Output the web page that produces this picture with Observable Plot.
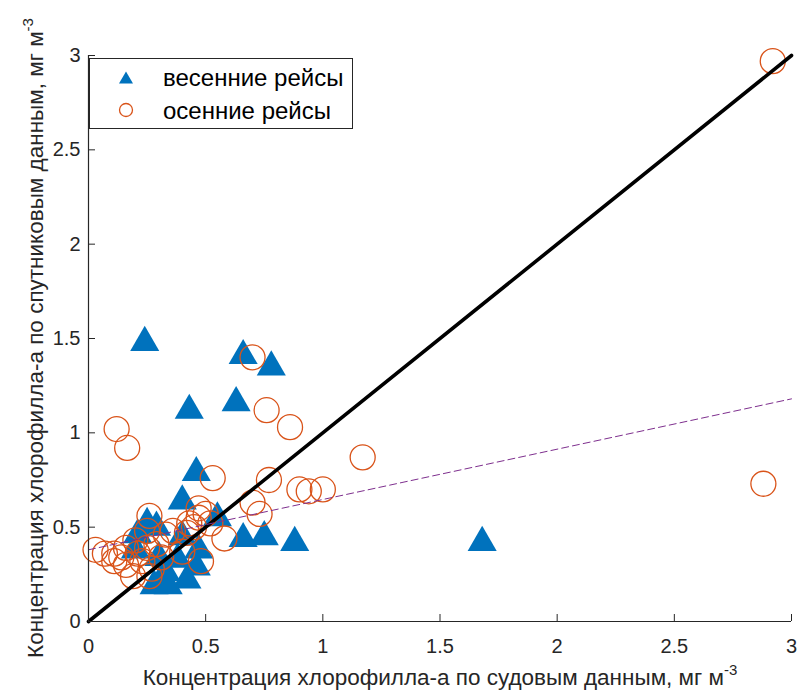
<!DOCTYPE html>
<html><head><meta charset="utf-8">
<script src="https://cdn.jsdelivr.net/npm/d3@7"></script>
<script src="https://cdn.jsdelivr.net/npm/@observablehq/plot@0.6"></script>
<style>body{margin:0;background:#fff}</style>
</head><body><div id="chart"></div>
<script>
// Axis ticks
const xTicks = [0, 0.5, 1, 1.5, 2, 2.5, 3];
const xTickLabels = ["0", "0.5", "1", "1.5", "2", "2.5", "3"];
const yTicks = [0, 0.5, 1, 1.5, 2, 2.5, 3];
const yTickLabels = ["0", "0.5", "1", "1.5", "2", "2.5", "3"];

// Spring cruises (triangles)
const springX = [0.24,0.66,0.78,0.43,0.63,0.46,0.40,0.25,0.55,0.66,0.75,0.88,1.68,0.47,0.46,0.42,0.31,0.28,0.34,0.30,0.20,0.21,0.29,0.33,0.38,0.40];
const springY = [1.50,1.43,1.37,1.14,1.18,0.81,0.66,0.54,0.57,0.46,0.47,0.44,0.44,0.40,0.31,0.24,0.24,0.21,0.21,0.36,0.40,0.48,0.52,0.28,0.35,0.47];

// Autumn cruises (circles)
const autumnX = [2.92,2.88,0.12,0.165,0.70,0.76,0.86,1.17,0.53,0.77,0.70,0.73,0.90,0.94,1.00,0.58,0.47,0.48,0.40,0.26,0.25,0.03,0.07,0.11,0.16,0.20,0.25,0.29,0.33,0.36,0.16,0.19,0.26,0.23,0.31,0.11,0.43,0.47,0.50,0.52,0.42,0.45,0.14,0.27,0.21];
const autumnY = [2.97,0.73,1.02,0.92,1.40,1.12,1.03,0.87,0.76,0.75,0.63,0.57,0.70,0.69,0.70,0.44,0.60,0.32,0.37,0.56,0.48,0.38,0.36,0.36,0.39,0.43,0.39,0.41,0.46,0.48,0.30,0.24,0.24,0.32,0.34,0.32,0.52,0.55,0.57,0.52,0.47,0.50,0.34,0.28,0.36];

// 1:1 line and regression line endpoints
const oneX = [0, 3], oneY = [0, 3];
const fitX = [0, 3], fitY = [0.38, 1.18];

const seriesNames = ["весенние рейсы", "осенние рейсы"];
const xLabel = "Концентрация хлорофилла-а по судовым данным, мг м";
const yLabel = "Концентрация хлорофилла-а по спутниковым данным, мг м";
const unitSup = "-3";

const spring = springX.map((x, i) => ({x, y: springY[i]}));
const autumn = autumnX.map((x, i) => ({x, y: autumnY[i]}));
const one = oneX.map((x, i) => ({x, y: oneY[i]}));
const fit = fitX.map((x, i) => ({x, y: fitY[i]}));

const ink = "#262626";
const font = "'Liberation Sans', Arial, Helvetica, sans-serif";

const chart = Plot.plot({
  width: 797, height: 690,
  marginLeft: 88, marginRight: 6, marginTop: 55, marginBottom: 69,
  style: {fontFamily: font, fontSize: "20px", color: ink, background: "#fff", overflow: "visible"},
  x: {domain: [0, 3]},
  y: {domain: [0, 3]},
  marks: [
    Plot.axisX(xTicks, {tickSize: 0, tickPadding: 17, tickFormat: (d, i) => xTickLabels[i], label: null, fill: ink}),
    Plot.axisY(yTicks, {tickSize: 0, tickPadding: 8, tickFormat: (d, i) => yTickLabels[i], label: null, fill: ink}),
    Plot.dot(spring, {x: "x", y: "y", symbol: "triangle", r: 10.8, fill: "#0072BD", dy: 4}),
    Plot.dot(autumn, {x: "x", y: "y", symbol: "circle", r: 12.5, stroke: "#D95319", strokeWidth: 1.3, fill: "none"}),
    Plot.line(one, {x: "x", y: "y", stroke: "#000", strokeWidth: 3.6}),
    Plot.line(fit, {x: "x", y: "y", stroke: "#7E2F8E", strokeWidth: 1, strokeDasharray: "7,4"}),
    Plot.ruleY([0], {stroke: ink, strokeWidth: 1.2}),
    Plot.ruleX([0], {stroke: ink, strokeWidth: 1.2}),
    Plot.ruleX(xTicks, {x: d => d, y1: 0, y2: 0, insetBottom: 7, stroke: ink, strokeWidth: 1}),
    Plot.ruleY(yTicks, {y: d => d, x1: 0, x2: 0, insetRight: -7, stroke: ink, strokeWidth: 1})
  ]
});
document.getElementById("chart").appendChild(chart);

const svg = d3.select(chart);
// X label
const xl = svg.append("text").attr("x", 440).attr("y", 685).attr("text-anchor", "middle")
  .attr("font-family", font).attr("font-size", 22.5).attr("fill", ink);
xl.append("tspan").text(xLabel);
xl.append("tspan").attr("font-size", 15).attr("dy", -10).text(unitSup);

// Y label
const yl = svg.append("text").attr("transform", "translate(43,338) rotate(-90)").attr("text-anchor", "middle")
  .attr("font-family", font).attr("font-size", 22.5).attr("fill", ink);
yl.append("tspan").text(yLabel);
yl.append("tspan").attr("font-size", 15).attr("dy", -10).text(unitSup);

// Legend
const lg = svg.append("g").attr("text-anchor", "start");
lg.append("rect").attr("x", 89.5).attr("y", 58.5).attr("width", 263).attr("height", 70)
  .attr("fill", "#fff").attr("stroke", ink).attr("stroke-width", 1);
lg.append("path").attr("transform", "translate(126,79.5)")
  .attr("d", d3.symbol(d3.symbolTriangle, 85)()).attr("fill", "#0072BD");
lg.append("circle").attr("cx", 126).attr("cy", 110).attr("r", 6.5)
  .attr("fill", "none").attr("stroke", "#D95319").attr("stroke-width", 1.3);
lg.append("text").attr("x", 163).attr("y", 86).attr("text-anchor", "start").attr("font-family", font).attr("font-size", 24)
  .attr("fill", "#000").text(seriesNames[0]);
lg.append("text").attr("x", 163).attr("y", 119).attr("text-anchor", "start").attr("font-family", font).attr("font-size", 24)
  .attr("fill", "#000").text(seriesNames[1]);
</script>
</body></html>
